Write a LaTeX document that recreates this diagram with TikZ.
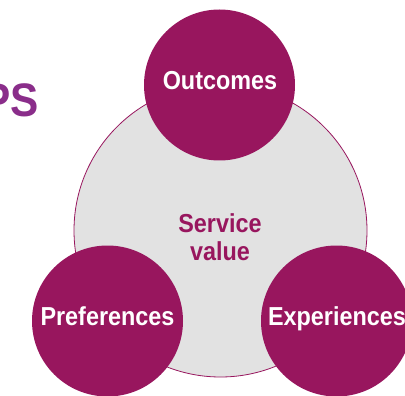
\documentclass[tikz,border=0pt]{standalone}
\usepackage{fontspec}
\setmainfont{Liberation Sans}[FakeStretch=0.9]
\definecolor{plum}{HTML}{98165E}
\definecolor{violet}{HTML}{8A2D8A}
\definecolor{lightgrey}{HTML}{E2E2E2}
\begin{document}
\begin{tikzpicture}[x=1pt,y=-1pt,
	part/.style={shape=circle,draw=none,fill=plum,minimum size=151pt,inner sep=0pt},
	word/.style={text=white,font=\fontsize{26}{28}\selectfont\bfseries,anchor=base}]
	\useasboundingbox (0,0) rectangle (405,396);

	\node[shape=circle,draw=plum,line width=0.8pt,fill=lightgrey,minimum size=293pt,inner sep=0pt] (value) at (220.5,230.5) {};
	\node[word,text=plum,align=center,anchor=base] (sv) at (220,260) {Service\\value};

	\node[part] (outcomes) at (219.5,85) {};
	\node[part] (preferences) at (107.5,321) {};
	\node[part] (experiences) at (336.5,321) {};

	\node[word] (o) at (220,89.5) {Outcomes};
	\node[word] (p) at (107.5,325) {Preferences};
	\node[word] (e) at (337,325) {Experiences};

	\node[text=violet,font=\fontsize{47}{50}\selectfont\bfseries,anchor=base east,inner sep=0pt] (title) at (39,117) {PS};
\end{tikzpicture}
\end{document}
